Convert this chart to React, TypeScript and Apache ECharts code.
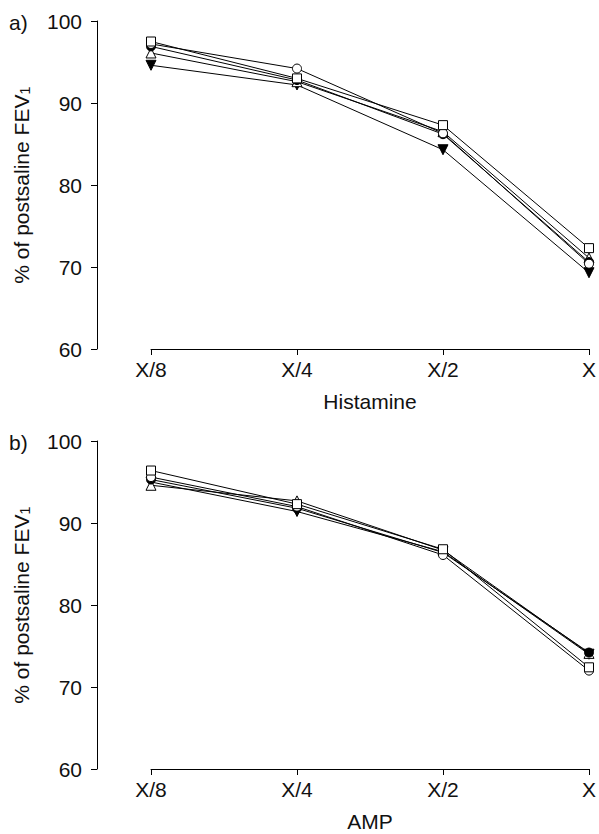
import React, { useEffect, useRef } from "react";
import * as echarts from "echarts";

const categories = ["X/8", "X/4", "X/2", "X"];
const yTicks = [60, 70, 80, 90, 100];

// Panel a (Histamine)
const histSquare = [97.5, 93.0, 87.3, 72.3];
const histCircle = [97.2, 94.2, 86.3, 70.4];
const histTriUp = [96.1, 92.6, 86.5, 71.1];
const histDot = [96.9, 92.8, 86.2, 70.6];
const histTriDown = [94.6, 92.2, 84.3, 69.3];

// Panel b (AMP)
const ampSquare = [96.4, 92.3, 86.8, 72.4];
const ampCircle = [95.6, 92.0, 86.1, 72.0];
const ampTriUp = [94.6, 92.7, 86.7, 74.1];
const ampDot = [95.3, 91.8, 86.4, 74.2];
const ampTriDown = [95.0, 91.4, 86.5, 74.0];

const FONT = "'Liberation Sans', Arial, Helvetica, sans-serif";

function makeSeries(idx: number, d: { sq: number[]; ci: number[]; tu: number[]; dot: number[]; td: number[] }) {
  const base = {
    type: "line" as const,
    xAxisIndex: idx,
    yAxisIndex: idx,
    lineStyle: { color: "#000", width: 1 },
    symbolKeepAspect: true,
  };
  return [
    { ...base, name: "td" + idx, data: d.td, symbol: "triangle", symbolRotate: 180, symbolSize: 10, itemStyle: { color: "#000", borderColor: "#000", borderWidth: 1 } },
    { ...base, name: "tu" + idx, data: d.tu, symbol: "triangle", symbolSize: 10, itemStyle: { color: "#fff", borderColor: "#000", borderWidth: 1 } },
    { ...base, name: "dot" + idx, data: d.dot, symbol: "circle", symbolSize: 9, itemStyle: { color: "#000", borderColor: "#000", borderWidth: 1 } },
    { ...base, name: "ci" + idx, data: d.ci, symbol: "circle", symbolSize: 9, itemStyle: { color: "#fff", borderColor: "#000", borderWidth: 1 } },
    { ...base, name: "sq" + idx, data: d.sq, symbol: "rect", symbolSize: 9, itemStyle: { color: "#fff", borderColor: "#000", borderWidth: 1 } },
  ];
}

function xAxis(idx: number, name: string) {
  return {
    type: "category" as const,
    gridIndex: idx,
    data: categories,
    boundaryGap: false,
    axisLine: { show: true, lineStyle: { color: "#000", width: 1 } },
    axisTick: { show: true, length: 6, lineStyle: { color: "#000" } },
    axisLabel: { color: "#111", fontSize: 21, fontFamily: FONT, margin: 10 },
    name,
    nameLocation: "middle" as const,
    nameGap: 42,
    nameTextStyle: { color: "#111", fontSize: 21, fontFamily: FONT },
    splitLine: { show: false },
  };
}

function yAxis(idx: number) {
  return {
    type: "value" as const,
    gridIndex: idx,
    min: yTicks[0],
    max: yTicks[yTicks.length - 1],
    interval: 10,
    offset: 54,
    axisLine: { show: true, lineStyle: { color: "#000", width: 1 } },
    axisTick: { show: true, length: 6, lineStyle: { color: "#000" } },
    axisLabel: { color: "#111", fontSize: 21, fontFamily: FONT, margin: 15 },
    splitLine: { show: false },
    name: "{m|% of postsaline FEV}{s|1}",
    nameLocation: "middle" as const,
    nameGap: 65,
    nameRotate: 90,
    nameTextStyle: {
      color: "#111",
      fontFamily: FONT,
      rich: {
        m: { fontSize: 21, fontFamily: FONT, color: "#111" },
        s: { fontSize: 15, fontFamily: FONT, color: "#111", padding: [6, 0, 0, 0] },
      },
    },
  };
}

export default function App() {
  const ref = useRef<HTMLDivElement>(null);
  useEffect(() => {
    document.body.style.margin = "0";
    if (!ref.current) return;
    const chart = echarts.init(ref.current, undefined, { renderer: "svg" });
    chart.setOption({
      animation: false,
      backgroundColor: "#fff",
      grid: [
        { left: 151, right: 7, top: 21, height: 328 },
        { left: 151, right: 7, top: 441, height: 328 },
      ],
      xAxis: [xAxis(0, "Histamine"), xAxis(1, "AMP")],
      yAxis: [yAxis(0), yAxis(1)],
      series: [
        ...makeSeries(0, { sq: histSquare, ci: histCircle, tu: histTriUp, dot: histDot, td: histTriDown }),
        ...makeSeries(1, { sq: ampSquare, ci: ampCircle, tu: ampTriUp, dot: ampDot, td: ampTriDown }),
      ],
      graphic: [
        { type: "text", left: 9, top: 12, style: { text: "a)", fontSize: 21, fontFamily: FONT, fill: "#111" } },
        { type: "text", left: 9, top: 432, style: { text: "b)", fontSize: 21, fontFamily: FONT, fill: "#111" } },
      ],
    });
    return () => chart.dispose();
  }, []);
  return <div ref={ref} style={{ width: 599, height: 834 }} />;
}
